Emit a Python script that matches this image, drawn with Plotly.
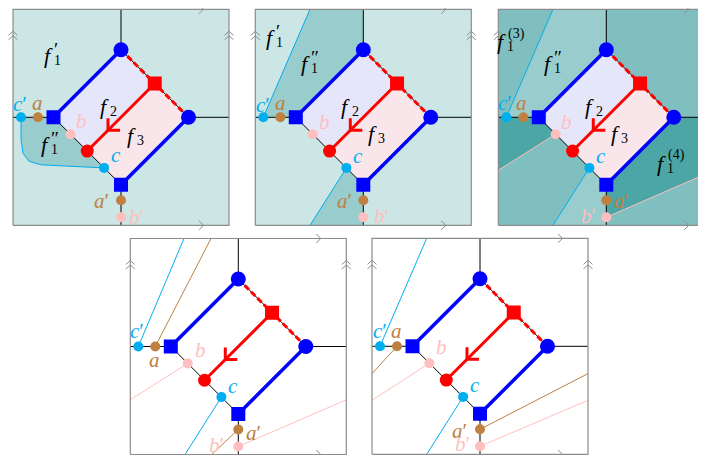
import plotly.graph_objects as go

W, H = 706, 455
BODY = 8        # the page body margin shifts the figure by this much
HALF = 108      # half side of a panel frame (px)
VX = 67.5       # distance of diamond corners from centre
PAD = 114       # axis half range, leaves room for frame marks

# panel centres in page pixels (x from left, y from top)
panel_cx = [121, 363.3, 606.3, 238.3, 480]
panel_cy = [117.3, 117.3, 117.3, 346.5, 346.3]
panel_bg = ['#CCE5E5', '#CCE5E5', '#80BFBF', 'white', 'white']
face_fill = [True, True, True, False, False]

# diamond corners: top, right, bottom, left
dia_x = [0, VX, 0, -VX]
dia_y = [VX, 0, -VX, 0]

# marked points
pt_names = ['c′', 'a', 'b', 'c', 'a′', 'b′']
pt_x = [-100, -83, -50.6, -16.9, 0, 0]
pt_y = [0, 0, -16.9, -50.6, -83, -100]
pt_colors = ['#00AEEF', '#BF8040', '#FFBFBF', '#00AEEF', '#BF8040', '#FFBFBF']

# label positions of the points, per panel
lbl_x = [[-101, -83.7, -40, -5, -19.3, 15.7],
         [-100, -83.3, -39, -5.6, -19, 18],
         [-101.6, -85, -40, -5, 15, -18],
         [-101, -84, -38.3, -5, 15, -21.7],
         [-100, -83, -38, -5, -20, -17]]
lbl_y = [[13.3, 14, -3.3, -38, -84, -100],
         [12.3, 14, -4.4, -38.7, -84, -99],
         [14, 14.6, -4.4, -38.7, -84, -99],
         [15.7, -13.3, -3.3, -39, -86.7, -98],
         [15, 15, -1, -39, -85, -98]]

# straight cuts from a point to the frame, per panel
cuts = [
    [],
    [('c′', -53.3, 108), ('c', -53.3, -108)],
    [('c′', -53.3, 108), ('c', -53.3, -108), ('b', -108, -53), ('b′', 108, -53)],
    [('c′', -54.3, 108), ('a', -27.3, 108), ('b', -108, -53.3),
     ('c', -53.3, -108), ('a′', -26.7, -108), ('b′', 108, -53.3)],
    [('c′', -53.3, 108), ('a', -108, -27.3), ('b', -108, -54),
     ('c', -53.3, -108), ('a′', 108, -27.3), ('b′', 108, -54)],
]

# shaded regions (x list, y list, colour), per panel
band_top_x = [-100, -53.3, 0, 0, -VX]
band_top_y = [0, 108, 108, VX, 0]
band_bot_x = [-16.9, -53.3, 0, 0]
band_bot_y = [-50.6, -108, -108, -VX]
dark_left_x = [-108, -VX, -50.6, -108]
dark_left_y = [0, 0, -16.9, -53]
dark_right_x = [VX, 108, 108, 0, 0]
dark_right_y = [0, 0, -53, -100, -VX]
regions = [
    [],
    [(band_top_x, band_top_y, '#99CCCC'), (band_bot_x, band_bot_y, '#99CCCC')],
    [(band_top_x, band_top_y, '#99CCCC'), (band_bot_x, band_bot_y, '#99CCCC'),
     (dark_left_x, dark_left_y, '#4DA6A6'), (dark_right_x, dark_right_y, '#4DA6A6')],
    [], [],
]

# f labels: (panel, x, y, subscript, superscript)
f_labels = [
    (0, -17, 11.3, '2', None), (0, 10, -18, '3', None),
    (0, -72.7, 62.3, '1', '′'), (0, -76, -27, '1', '″'),
    (1, -17.5, 11.3, '2', None), (1, 9, -16, '3', None),
    (1, -93, 80, '1', '′'), (1, -58, 54, '1', '″'),
    (2, -16.5, 11.3, '2', None), (2, 9, -16, '3', None),
    (2, -105, 75.6, '1', '(3)'), (2, -58, 54, '1', '″'),
    (2, 55, -46, '1', '(4)'),
]

SERIF = 'Liberation Serif'

fig = go.Figure()
layout = dict(width=W, height=H, margin=dict(l=0, r=0, t=0, b=0),
              paper_bgcolor='white', plot_bgcolor='rgba(0,0,0,0)',
              showlegend=False, annotations=[])


def add_line(ref, xs, ys, color, width, dash=None, fill=None, fillcolor=None):
    xr, yr = ref
    fig.add_trace(go.Scatter(x=xs, y=ys, xaxis=xr, yaxis=yr, mode='lines',
                             line=dict(color=color, width=width, dash=dash),
                             fill=fill, fillcolor=fillcolor, hoverinfo='skip'))


def text(ref, x, y, s, color='black', size=18, anchor='center'):
    layout['annotations'].append(dict(
        x=x, y=y, xref=ref[0], yref=ref[1], text=s, showarrow=False,
        xanchor=anchor, yanchor='middle',
        font=dict(family=SERIF, size=size, color=color)))


def span(c, total):
    # pixel span and data range of one axis, clipped to the figure
    lo, hi = c - PAD, c + PAD
    r0, r1 = -PAD, PAD
    if lo < 0:
        r0 += -lo
        lo = 0
    if hi > total:
        r1 -= hi - total
        hi = total
    return lo, hi, r0, r1


for i in range(5):
    n = '' if i == 0 else str(i + 1)
    x0, x1, rx0, rx1 = span(panel_cx[i] - BODY, W)
    # y: page pixels downwards, data upwards, so flip
    top, bot, a0, a1 = span(panel_cy[i] - BODY, H)
    ry0, ry1 = -a1, -a0
    layout['xaxis' + n] = dict(domain=[x0 / W, x1 / W], range=[rx0, rx1],
                               visible=False, anchor='y' + n, fixedrange=True)
    layout['yaxis' + n] = dict(domain=[1 - bot / H, 1 - top / H], range=[ry0, ry1],
                               visible=False, anchor='x' + n, fixedrange=True)
    ref = ('x' + n, 'y' + n)

    # panel background
    add_line(ref, [-HALF, HALF, HALF, -HALF, -HALF], [-HALF, -HALF, HALF, HALF, -HALF],
             'rgba(0,0,0,0)', 0, fill='toself', fillcolor=panel_bg[i])
    for rx, ry, col in regions[i]:
        add_line(ref, rx + [rx[0]], ry + [ry[0]], 'rgba(0,0,0,0)', 0,
                 fill='toself', fillcolor=col)
    if i == 0:
        # f1'' pocket bounded by the cyan curve
        cx_ = [-100, -VX, -16.9, -40, -60, -80, -92, -98, -100, -100]
        cy_ = [0, 0, -50.6, -49.7, -48.8, -47.5, -44, -36, -22, 0]
        add_line(ref, cx_, cy_, 'rgba(0,0,0,0)', 0, fill='toself', fillcolor='#99CCCC')
        add_line(ref, cx_[2:], cy_[2:], '#00AEEF', 1)

    # f2 and f3 faces (only shaded in the top row)
    if face_fill[i]:
        add_line(ref, [0, VX / 2, -VX / 2, -VX, 0], [VX, VX / 2, -VX / 2, 0, VX],
                 'rgba(0,0,0,0)', 0, fill='toself', fillcolor='#E6E6FA')
        add_line(ref, [VX / 2, VX, 0, -VX / 2, VX / 2], [VX / 2, 0, -VX, -VX / 2, VX / 2],
                 'rgba(0,0,0,0)', 0, fill='toself', fillcolor='#F9E6EB')

    # cuts
    for name, ex, ey in cuts[i]:
        k = pt_names.index(name)
        add_line(ref, [pt_x[k], ex], [pt_y[k], ey], pt_colors[k], 1)

    # thin black graph edges
    add_line(ref, [0, 0], [VX, HALF], 'black', 1)
    add_line(ref, [0, 0], [-VX, -HALF], 'black', 1)
    add_line(ref, [-HALF, -VX], [0, 0], 'black', 1)
    add_line(ref, [VX, HALF], [0, 0], 'black', 1)
    add_line(ref, [0, VX], [VX, 0], 'black', 1)
    add_line(ref, [-VX, 0], [0, -VX], 'black', 1)

    # frame with identification marks
    add_line(ref, [-HALF, HALF, HALF, -HALF, -HALF], [-HALF, -HALF, HALF, HALF, -HALF],
             '#8C8C8C', 1.2)
    for yy in (HALF, -HALF):
        add_line(ref, [78, 82.5, 78], [yy + 4.5, yy, yy - 4.5], '#8C8C8C', 1)
    for xx in (-HALF, HALF):
        for ap in (86, 81.5):
            add_line(ref, [xx - 4.5, xx, xx + 4.5], [ap - 4, ap, ap - 4], '#8C8C8C', 1)

    # thick coloured edges
    add_line(ref, [0, VX], [VX, 0], '#FF0000', 3, dash='6px,3px')
    add_line(ref, [0, -VX], [VX, 0], '#0000FF', 3.5)
    add_line(ref, [VX, 0], [0, -VX], '#0000FF', 3.5)
    add_line(ref, [VX / 2, -VX / 2], [VX / 2, -VX / 2], '#FF0000', 3)
    add_line(ref, [-13, -13, -1], [-1, -13, -13], '#FF0000', 3)

    # vertices
    fig.add_trace(go.Scatter(
        x=[0, VX], y=[VX, 0], xaxis=ref[0], yaxis=ref[1], mode='markers',
        marker=dict(symbol='circle', size=15, color='#0000FF'), hoverinfo='skip'))
    fig.add_trace(go.Scatter(
        x=[-VX, 0], y=[0, -VX], xaxis=ref[0], yaxis=ref[1], mode='markers',
        marker=dict(symbol='square', size=14, color='#0000FF'), hoverinfo='skip'))
    fig.add_trace(go.Scatter(
        x=[VX / 2], y=[VX / 2], xaxis=ref[0], yaxis=ref[1], mode='markers',
        marker=dict(symbol='square', size=14, color='#FF0000'), hoverinfo='skip'))
    fig.add_trace(go.Scatter(
        x=[-VX / 2], y=[-VX / 2], xaxis=ref[0], yaxis=ref[1], mode='markers',
        marker=dict(symbol='circle', size=13, color='#FF0000'), hoverinfo='skip'))
    fig.add_trace(go.Scatter(
        x=pt_x, y=pt_y, xaxis=ref[0], yaxis=ref[1], mode='markers',
        marker=dict(symbol='circle', size=10, color=pt_colors), hoverinfo='skip'))

    for k, name in enumerate(pt_names):
        s = '<i>' + name[0] + '</i>' + name[1:]
        text(ref, lbl_x[i][k], lbl_y[i][k], s, pt_colors[k], 21)

for p, x, y, sub, sup in f_labels:
    n = '' if p == 0 else str(p + 1)
    ref = ('x' + n, 'y' + n)
    text(ref, x, y, '<i>f</i>', 'black', 22)
    text(ref, x + 4, y - 5, sub, 'black', 14, anchor='left')
    if sup:
        if sup[0] == '(':
            text(ref, x + 5, y + 8, sup, 'black', 14, anchor='left')
        else:
            text(ref, x + 4, y + 6, sup, 'black', 19, anchor='left')

fig.update_layout(**layout)
fig.write_html("out.html")
